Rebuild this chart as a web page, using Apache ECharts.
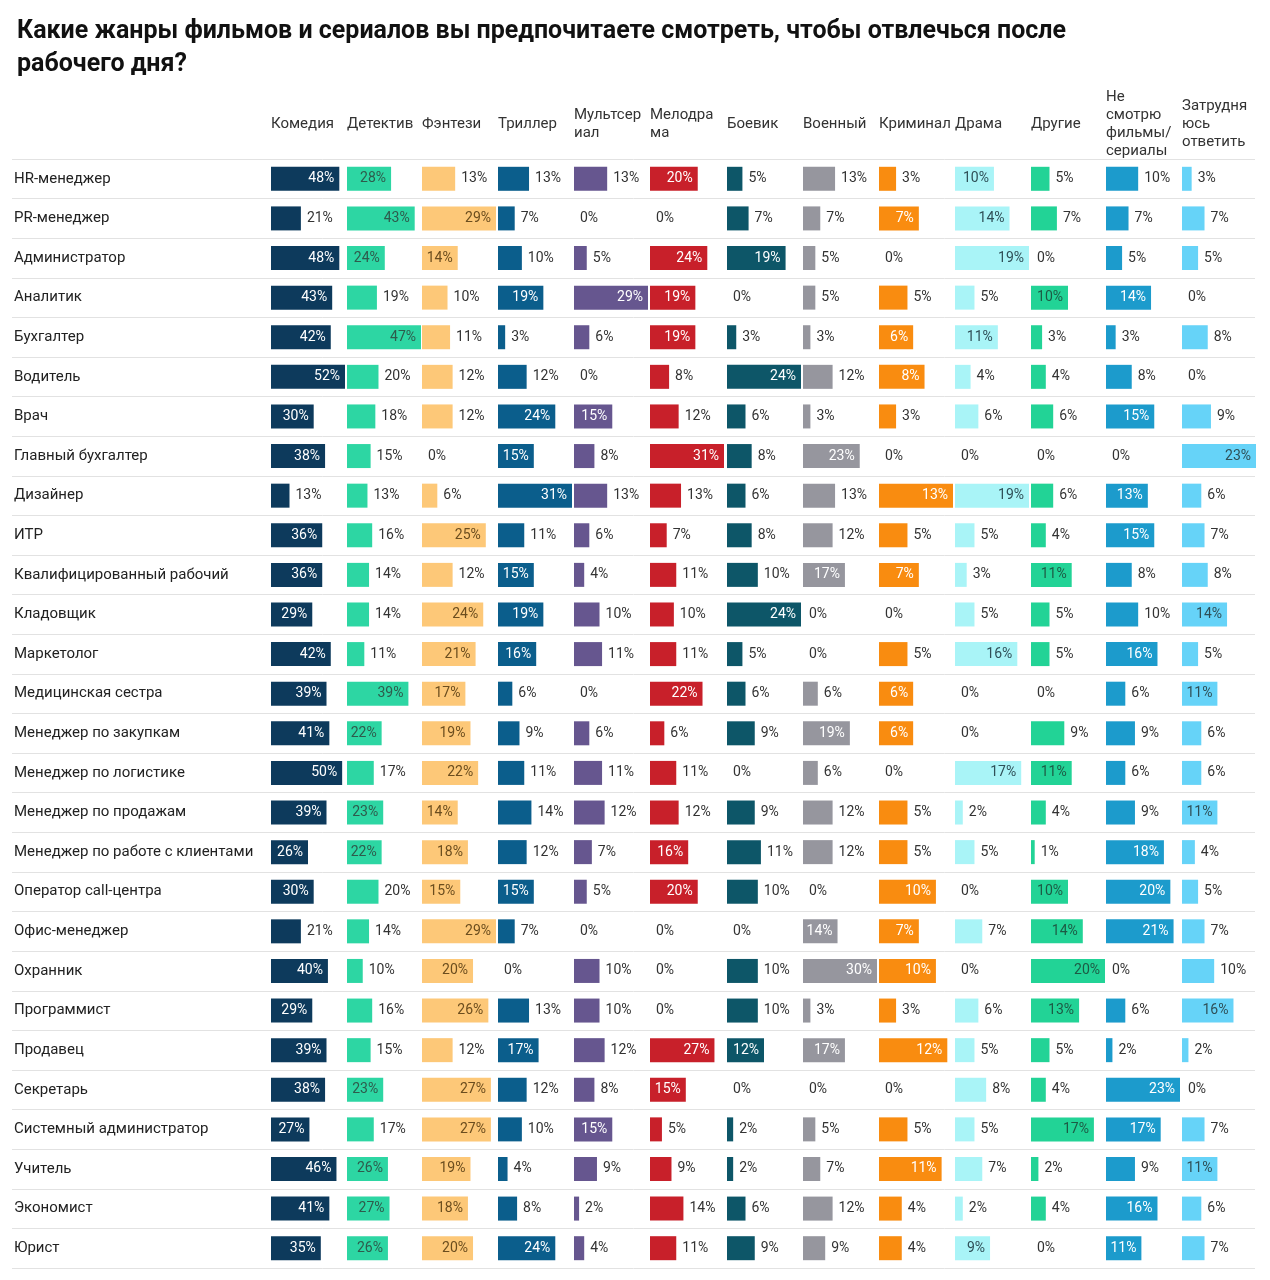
<!DOCTYPE html>
<html>
<head>
<meta charset="utf-8">
<script src="https://cdn.jsdelivr.net/npm/echarts@6/dist/echarts.min.js"></script>
<style>html,body{margin:0;padding:0;background:#fff}#main{width:1270px;height:1280px}</style>
</head>
<body>
<div id="main"></div>
<script>
var genres = ['Комедия', 'Детектив', 'Фэнтези', 'Триллер', 'Мультсер\nиал', 'Мелодра\nма', 'Боевик', 'Военный', 'Криминал', 'Драма', 'Другие', 'Не\nсмотрю\nфильмы/\nсериалы', 'Затрудня\nюсь\nответить'];
var jobs = ['HR-менеджер', 'PR-менеджер', 'Администратор', 'Аналитик', 'Бухгалтер', 'Водитель', 'Врач', 'Главный бухгалтер', 'Дизайнер', 'ИТР', 'Квалифицированный рабочий', 'Кладовщик', 'Маркетолог', 'Медицинская сестра', 'Менеджер по закупкам', 'Менеджер по логистике', 'Менеджер по продажам', 'Менеджер по работе с клиентами', 'Оператор call-центра', 'Офис-менеджер', 'Охранник', 'Программист', 'Продавец', 'Секретарь', 'Системный администратор', 'Учитель', 'Экономист', 'Юрист'];
// по строкам: значения в порядке genres
var values = [
    [48, 28, 13, 13, 13, 20, 5, 13, 3, 10, 5, 10, 3],
    [21, 43, 29, 7, 0, 0, 7, 7, 7, 14, 7, 7, 7],
    [48, 24, 14, 10, 5, 24, 19, 5, 0, 19, 0, 5, 5],
    [43, 19, 10, 19, 29, 19, 0, 5, 5, 5, 10, 14, 0],
    [42, 47, 11, 3, 6, 19, 3, 3, 6, 11, 3, 3, 8],
    [52, 20, 12, 12, 0, 8, 24, 12, 8, 4, 4, 8, 0],
    [30, 18, 12, 24, 15, 12, 6, 3, 3, 6, 6, 15, 9],
    [38, 15, 0, 15, 8, 31, 8, 23, 0, 0, 0, 0, 23],
    [13, 13, 6, 31, 13, 13, 6, 13, 13, 19, 6, 13, 6],
    [36, 16, 25, 11, 6, 7, 8, 12, 5, 5, 4, 15, 7],
    [36, 14, 12, 15, 4, 11, 10, 17, 7, 3, 11, 8, 8],
    [29, 14, 24, 19, 10, 10, 24, 0, 0, 5, 5, 10, 14],
    [42, 11, 21, 16, 11, 11, 5, 0, 5, 16, 5, 16, 5],
    [39, 39, 17, 6, 0, 22, 6, 6, 6, 0, 0, 6, 11],
    [41, 22, 19, 9, 6, 6, 9, 19, 6, 0, 9, 9, 6],
    [50, 17, 22, 11, 11, 11, 0, 6, 0, 17, 11, 6, 6],
    [39, 23, 14, 14, 12, 12, 9, 12, 5, 2, 4, 9, 11],
    [26, 22, 18, 12, 7, 16, 11, 12, 5, 5, 1, 18, 4],
    [30, 20, 15, 15, 5, 20, 10, 0, 10, 0, 10, 20, 5],
    [21, 14, 29, 7, 0, 0, 0, 14, 7, 7, 14, 21, 7],
    [40, 10, 20, 0, 10, 0, 10, 30, 10, 0, 20, 0, 10],
    [29, 16, 26, 13, 10, 0, 10, 3, 3, 6, 13, 6, 16],
    [39, 15, 12, 17, 12, 27, 12, 17, 12, 5, 5, 2, 2],
    [38, 23, 27, 12, 8, 15, 0, 0, 0, 8, 4, 23, 0],
    [27, 17, 27, 10, 15, 5, 2, 5, 5, 5, 17, 17, 7],
    [46, 26, 19, 4, 9, 9, 2, 7, 11, 7, 2, 9, 11],
    [41, 27, 18, 8, 2, 14, 6, 12, 4, 2, 4, 16, 6],
    [35, 26, 20, 24, 4, 11, 9, 9, 4, 9, 0, 11, 7]
];
var colors = ['#0d3a5c', '#2dd6a3', '#fdc878', '#0b5e8c', '#66568f', '#c8202a', '#0d5668', '#96969e', '#f98c10', '#a9f4f7', '#22d396', '#1c9bcc', '#66d3f8'];
var insideText = ['#fff', '#2e5b4c', '#6b4d1e', '#fff', '#fff', '#fff', '#fff', '#fff', '#fff', '#2f4f57', '#1d5a44', '#fff', '#2f4f57'];

var colLeft = [271, 347, 422, 498, 574, 650, 727, 803, 879, 955, 1031, 1106, 1182];
var barW = 74, gridTop = 159, gridHeight = 1109;

var grids = [], xAxes = [], yAxes = [], series = [], graphics = [];

// фон с разделителями строк
grids.push({ left: 12, top: gridTop, width: 1243, height: gridHeight });
xAxes.push({ gridIndex: 0, type: 'value', show: false, min: 0, max: 1 });
yAxes.push({
    gridIndex: 0, type: 'category', data: jobs, inverse: true,
    axisLine: { show: false }, axisTick: { show: false }, axisLabel: { show: false },
    splitLine: { show: true, lineStyle: { color: '#e2e2e2', width: 1 } }
});
series.push({ type: 'bar', xAxisIndex: 0, yAxisIndex: 0, data: jobs.map(function () { return 0; }), silent: true });

genres.forEach(function (g, c) {
    var gi = c + 1;
    var col = values.map(function (r) { return r[c]; });
    var max = Math.max.apply(null, col);
    grids.push({ left: colLeft[c], top: gridTop, width: barW, height: gridHeight });
    xAxes.push({ gridIndex: gi, type: 'value', show: false, min: 0, max: max });
    yAxes.push({
        gridIndex: gi, type: 'category', data: jobs, inverse: true,
        axisLine: { show: false }, axisTick: { show: false }, splitLine: { show: false },
        axisLabel: c === 0 ? {
            show: true, align: 'left', margin: colLeft[0] - 14,
            color: '#222', fontSize: 15, fontFamily: 'Roboto'
        } : { show: false }
    });
    series.push({
        type: 'bar', xAxisIndex: gi, yAxisIndex: gi, barWidth: 24,
        itemStyle: { color: colors[c] },
        label: { show: true, formatter: '{c}%', fontSize: 14, fontFamily: 'Roboto', distance: 6 },
        data: col.map(function (v) {
            var inside = v / max * barW >= 34;
            return {
                value: v,
                label: inside ? { position: 'insideRight', color: insideText[c], distance: 5 }
                              : { position: 'right', color: '#333' }
            };
        })
    });
    graphics.push({
        type: 'text', left: colLeft[c], top: 124 - (g.split('\n').length * 18) / 2,
        style: { text: g, fill: '#333', font: '15px Roboto', lineHeight: 18 }
    });
});

var chart = echarts.init(document.getElementById('main'));
chart.setOption({
    animation: false,
    title: {
        text: 'Какие жанры фильмов и сериалов вы предпочитаете смотреть, чтобы отвлечься после\nрабочего дня?',
        left: 12, top: 10,
        textStyle: { fontSize: 25, fontWeight: 'bold', color: '#111', fontFamily: 'Roboto', lineHeight: 33 }
    },
    graphic: graphics,
    grid: grids,
    xAxis: xAxes,
    yAxis: yAxes,
    series: series
});
</script>
</body>
</html>
